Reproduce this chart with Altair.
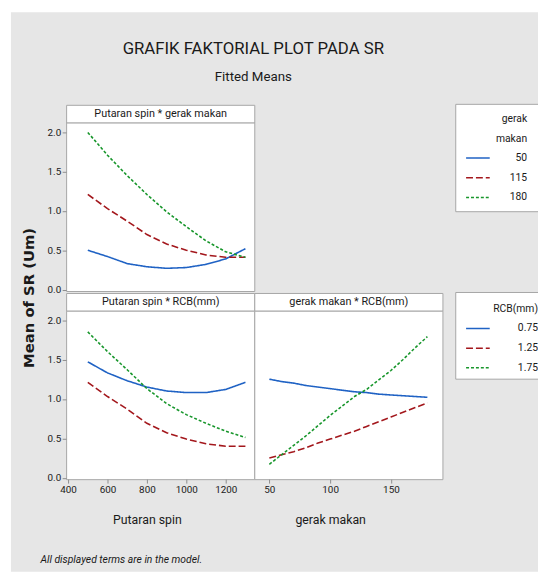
import altair as alt
import pandas as pd

# ---------------- data ----------------
putaran = [500, 600, 700, 800, 900, 1000, 1100, 1200, 1300]
gerak = [50, 60, 70, 80, 90, 100, 110, 120, 130, 140, 150, 160, 170, 180]

gm_levels = ["50", "115", "180"]
rcb_levels = ["0.75", "1.25", "1.75"]

# Putaran spin * gerak makan
spin_gm50 = [0.50, 0.42, 0.33, 0.29, 0.27, 0.28, 0.32, 0.39, 0.52]
spin_gm115 = [1.21, 1.03, 0.87, 0.70, 0.58, 0.50, 0.44, 0.41, 0.41]
spin_gm180 = [2.00, 1.71, 1.45, 1.21, 0.99, 0.80, 0.62, 0.48, 0.41]

# Putaran spin * RCB(mm)
spin_rcb075 = [1.47, 1.33, 1.23, 1.15, 1.10, 1.08, 1.08, 1.12, 1.21]
spin_rcb125 = [1.21, 1.03, 0.87, 0.69, 0.57, 0.49, 0.43, 0.40, 0.40]
spin_rcb175 = [1.85, 1.60, 1.37, 1.13, 0.94, 0.80, 0.69, 0.59, 0.51]

# gerak makan * RCB(mm)
gm_rcb075 = [1.25, 1.22, 1.20, 1.17, 1.15, 1.13, 1.11, 1.09, 1.08, 1.06, 1.05, 1.04, 1.03, 1.02]
gm_rcb125 = [0.25, 0.29, 0.33, 0.38, 0.44, 0.49, 0.54, 0.59, 0.65, 0.71, 0.77, 0.83, 0.89, 0.95]
gm_rcb175 = [0.17, 0.29, 0.41, 0.53, 0.66, 0.79, 0.91, 1.03, 1.12, 1.24, 1.36, 1.50, 1.65, 1.79]

spin_ticks = [400, 600, 800, 1000, 1200]
gerak_ticks = [50, 100, 150]
sr_ticks = [0.0, 0.5, 1.0, 1.5, 2.0]

# ---------------- styling ----------------
FONT = "Roboto"
BG = "#e6e6e6"
FRAME = "#a6a6a6"
TXT = "#1a1a1a"
TICK = "#8c8c8c"
line_colors = ["#1f62c4", "#a3171c", "#17962b"]
line_dashes = [[1, 0], [7, 3], [3, 2]]

W, H = 538, 568


def long_df(xs, xname, series, levels, lname):
    rows = []
    for lvl, vals in zip(levels, series):
        for x, v in zip(xs, vals):
            rows.append({xname: x, "sr": v, lname: lvl})
    return pd.DataFrame(rows)


df_tl = long_df(putaran, "spin", [spin_gm50, spin_gm115, spin_gm180], gm_levels, "gm")
df_bl = long_df(putaran, "spin", [spin_rcb075, spin_rcb125, spin_rcb175], rcb_levels, "rcb")
df_br = long_df(gerak, "gerak", [gm_rcb075, gm_rcb125, gm_rcb175], rcb_levels, "rcb")
one = pd.DataFrame({"k": [0]})


def box(x1, x2, y1, y2, fill, stroke=None):
    kw = dict(fill=fill)
    if stroke:
        kw.update(stroke=stroke, strokeWidth=1)
    return alt.Chart(one).mark_rect(**kw).encode(
        x=alt.value(x1), x2=alt.value(x2), y=alt.value(y1), y2=alt.value(y2)
    )


def label(text, x, y, **kw):
    return alt.Chart(one).mark_text(**kw).encode(
        x=alt.value(x), y=alt.value(y), text=alt.value(text)
    )


def yaxis():
    return alt.Axis(orient="left", offset=-59, values=sr_ticks, format=".1f", grid=False,
                    domain=False, tickSize=4, tickColor=TICK, labelFont=FONT,
                    labelFontSize=10, labelColor=TXT, labelPadding=1.5, labelFlush=False,
                    labelOverlap=False, title=None, zindex=2)


def xaxis(values, title):
    return alt.Axis(orient="bottom", offset=-94, values=values, format="d", grid=False,
                    domain=False, tickSize=4, tickColor=TICK, labelFont=FONT, labelFontSize=10,
                    labelColor=TXT, labelPadding=2, labelFlush=False, labelOverlap=False,
                    title=title, titleFont=FONT, titleFontSize=12.5, titleFontWeight="normal",
                    titleColor=TXT, titlePadding=19, zindex=2)


def legend(title, x, y, label_offset):
    return alt.Legend(orient="none", legendX=x, legendY=y, title=title, titleAnchor="end",
                      titleAlign="right", titleBaseline="top", titleFont=FONT, titleFontSize=10.5,
                      titleFontWeight="normal", titleColor=TXT, titleLineHeight=20,
                      titlePadding=1, symbolType="stroke", symbolSize=576,
                      symbolStrokeWidth=1.5, labelAlign="right", labelOffset=label_offset,
                      labelFont=FONT, labelFontSize=10.5, labelColor=TXT, padding=0,
                      rowPadding=1)


spin_scale = dict(domain=[400, 1200], range=[61, 221], nice=False, zero=False)
gerak_scale = dict(domain=[50, 150], range=[265.3, 388.7], nice=False, zero=False)
top_y = dict(domain=[0, 2], range=[281.5, 122], nice=False, zero=False)
bot_y = dict(domain=[0, 2], range=[472.5, 312.5], nice=False, zero=False)

leg_gm = legend(["gerak", "makan"], 464, 103.5, 37)
leg_rcb = legend("RCB(mm)", 464, 296.5, 48)

tl = alt.Chart(df_tl).mark_line(strokeWidth=1.6).encode(
    x=alt.X("spin:Q", scale=alt.Scale(**spin_scale), axis=None),
    y=alt.Y("sr:Q", scale=alt.Scale(**top_y), axis=yaxis()),
    color=alt.Color("gm:N", scale=alt.Scale(domain=gm_levels, range=line_colors), legend=leg_gm),
    strokeDash=alt.StrokeDash("gm:N", scale=alt.Scale(domain=gm_levels, range=line_dashes), legend=leg_gm),
)

bl = alt.Chart(df_bl).mark_line(strokeWidth=1.6).encode(
    x=alt.X("spin:Q", scale=alt.Scale(**spin_scale), axis=xaxis(spin_ticks, "Putaran spin")),
    y=alt.Y("sr:Q", scale=alt.Scale(**bot_y), axis=yaxis()),
    color=alt.Color("rcb:N", scale=alt.Scale(domain=rcb_levels, range=line_colors), legend=leg_rcb),
    strokeDash=alt.StrokeDash("rcb:N", scale=alt.Scale(domain=rcb_levels, range=line_dashes), legend=leg_rcb),
)

br = alt.Chart(df_br).mark_line(strokeWidth=1.6).encode(
    x=alt.X("gerak:Q", scale=alt.Scale(**gerak_scale), axis=xaxis(gerak_ticks, "gerak makan")),
    y=alt.Y("sr:Q", scale=alt.Scale(**bot_y), axis=None),
    color=alt.Color("rcb:N", scale=alt.Scale(domain=rcb_levels, range=line_colors), legend=None),
    strokeDash=alt.StrokeDash("rcb:N", scale=alt.Scale(domain=rcb_levels, range=line_dashes), legend=None),
)

decor = [
    box(3, W, 0, H, BG),
    # panels: headers and plot areas
    box(59.5, 250.5, 94.5, 112.5, "white", FRAME),
    box(59.5, 250.5, 112.5, 283.5, "white", FRAME),
    box(59.5, 250.5, 285.5, 303.5, "white", FRAME),
    box(59.5, 250.5, 303.5, 474.5, "white", FRAME),
    box(250.5, 441.5, 285.5, 303.5, "white", FRAME),
    box(250.5, 441.5, 303.5, 474.5, "white", FRAME),
    # legend boxes
    box(454.5, 545, 93.5, 202.5, "white", FRAME),
    box(454.5, 545, 284.5, 372.5, "white", FRAME),
]

texts = [
    label("GRAFIK FAKTORIAL PLOT PADA SR", 249, 37, font=FONT, fontSize=17, color=TXT),
    label("Fitted Means", 249, 66, font=FONT, fontSize=13.5, color=TXT),
    label("Putaran spin * gerak makan", 155, 103.5, font=FONT, fontSize=11, color=TXT),
    label("Putaran spin * RCB(mm)", 155, 294.5, font=FONT, fontSize=11, color=TXT),
    label("gerak makan * RCB(mm)", 346, 294.5, font=FONT, fontSize=11, color=TXT),
    label("Mean of SR (Um)", 21, 290, font="DejaVu Sans", fontSize=15, fontWeight="bold",
          angle=270, color=TXT),
    label("All displayed terms are in the model.", 33, 556, font=FONT, fontSize=10.5,
          fontStyle="italic", align="left", color=TXT),
]

chart = alt.layer(*decor, tl, bl, br, *texts).resolve_scale(
    x="independent", y="independent", color="independent", strokeDash="independent"
).properties(
    width=W, height=H, autosize=alt.AutoSizeParams(type="none"), padding=0, background="white"
).configure_view(stroke="transparent")

chart.save("out.html", embed_options={"renderer": "svg", "actions": False})
